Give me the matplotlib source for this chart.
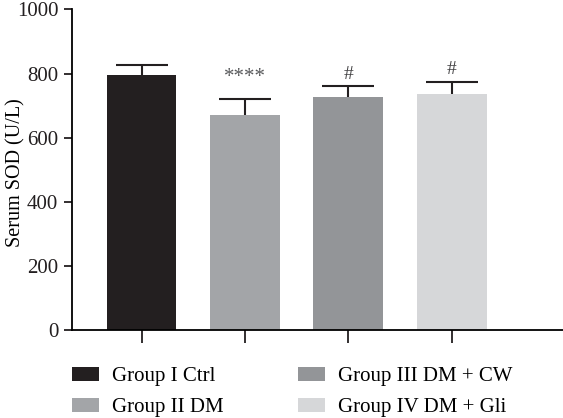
import matplotlib.pyplot as plt
from matplotlib.patches import Patch
import numpy as np

groups = ['Group I Ctrl', 'Group II DM', 'Group III DM + CW', 'Group IV DM + Gli']
sod_mean = [795, 672, 728, 736]
sod_sd = [32, 48, 34, 39]
marks = ['', '****', '#', '#']
colors = ['#231f20', '#a3a5a8', '#939598', '#d6d7d9']

plt.rcParams['font.family'] = ['Liberation Serif', 'DejaVu Serif']

fig = plt.figure(figsize=(5.63, 4.18), dpi=100)
ax = fig.add_axes([0.128, 0.2105, 0.872, 0.767])

x = np.arange(len(groups))
# symmetric bars drawn under the columns, so only the upper half shows
ax.errorbar(x, sod_mean, yerr=sod_sd, fmt='none', ecolor='#231f20',
            elinewidth=1.5, capsize=19, capthick=1.5, zorder=1)
ax.bar(x, sod_mean, width=0.676, color=colors, zorder=2)

for i in range(len(groups)):
    top = sod_mean[i] + sod_sd[i]
    if marks[i] == '****':
        ax.text(x[i], top + 68, marks[i], ha='center', va='center',
                fontsize=15, color='#58595b')
    elif marks[i] == '#':
        ax.text(x[i], top + 22, marks[i], ha='center', va='baseline',
                fontsize=14, color='#414042')

ax.set_xlim(-0.671, 4.073)
ax.set_ylim(0, 1000)
ax.set_yticks([0, 200, 400, 600, 800, 1000])
ax.set_xticks(x)
ax.set_xticklabels([])
ax.spines['top'].set_visible(False)
ax.spines['right'].set_visible(False)
ax.spines['left'].set_linewidth(1.3)
ax.spines['bottom'].set_linewidth(1.3)
ax.tick_params(axis='both', direction='out', length=6, width=1.3, pad=4,
               labelsize=15, colors='#231f20')
ax.tick_params(axis='x', length=9)
ax.set_ylabel('Serum SOD (U/L)', fontsize=14.5)
ax.yaxis.set_label_coords(-0.094, 0.49)

handles = [Patch(facecolor=c, edgecolor='none') for c in colors]
fig.legend(handles, groups, loc='upper left', bbox_to_anchor=(0.128, 0.122), ncol=2,
           frameon=False, fontsize=15, handlelength=1.3, handleheight=0.67,
           handletextpad=0.62, columnspacing=3.55, labelspacing=0.55,
           borderaxespad=0, borderpad=0)

plt.savefig('out.png', dpi=100)
